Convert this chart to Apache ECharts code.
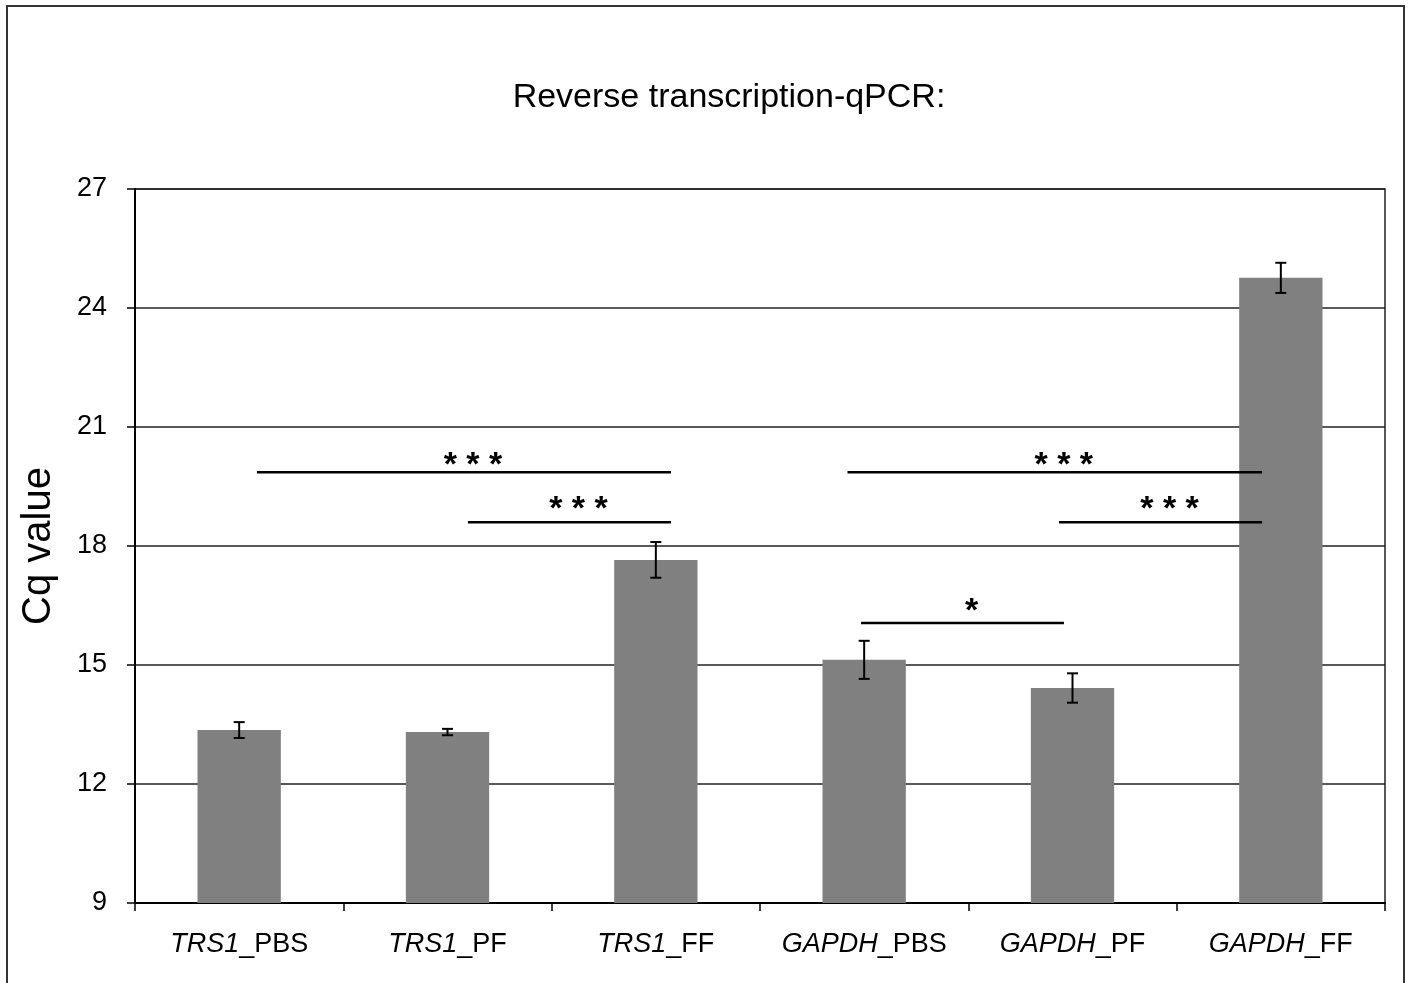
<!DOCTYPE html>
<html>
<head>
<meta charset="utf-8">
<script src="https://cdn.jsdelivr.net/npm/echarts@6/dist/echarts.min.js"></script>
<style>
html, body { margin: 0; padding: 0; background: #fff; }
#main { width: 1411px; height: 983px; }
</style>
</head>
<body>
<div id="main"></div>
<script>
// data
var genes = ['TRS1', 'TRS1', 'TRS1', 'GAPDH', 'GAPDH', 'GAPDH'];
var treatments = ['PBS', 'PF', 'FF', 'PBS', 'PF', 'FF'];
var cqMean = [13.36, 13.31, 17.65, 15.13, 14.42, 24.76];
var cqErr = [0.20, 0.08, 0.45, 0.48, 0.37, 0.38];

// significance brackets (x in category units, 0..6)
var sigFrom = [0.585, 1.598, 3.42, 4.435, 3.485];
var sigTo = [2.573, 2.573, 5.41, 5.41, 4.459];
var sigY = [19.86, 18.60, 19.86, 18.60, 16.06];
var sigStarY = [20.22, 19.11, 20.22, 19.11, 16.54];
var sigText = ['* * *', '* * *', '* * *', '* * *', '*'];

var FONT = 'Arial, "Liberation Sans", sans-serif';

var categories = genes.map(function (g, i) { return g + '_' + treatments[i]; });
var errData = cqMean.map(function (m, i) { return [i, m - cqErr[i], m + cqErr[i]]; });
var sigData = sigFrom.map(function (f, i) { return [f, sigTo[i], sigY[i], sigStarY[i]]; });

var myChart = echarts.init(document.getElementById('main'));
var option = {
    backgroundColor: '#fff',
    animation: false,
    title: {
        text: 'Reverse transcription-qPCR:',
        left: 724,
        top: 76,
        textAlign: 'center',
        textStyle: { fontFamily: FONT, fontSize: 34, fontWeight: 'normal', color: '#000' }
    },
    graphic: [{
        type: 'rect',
        shape: { x: 7, y: 6, width: 1397, height: 1010 },
        style: { fill: 'none', stroke: '#333', lineWidth: 2 }
    }],
    grid: {
        left: 135, right: 26, top: 189, bottom: 80,
        show: true, borderColor: '#222', borderWidth: 1.5
    },
    xAxis: [{
        type: 'category',
        data: categories,
        axisLine: { lineStyle: { color: '#000', width: 2 } },
        axisTick: { show: true, length: 8, lineStyle: { color: '#000', width: 1.5 } },
        axisLabel: {
            interval: 0,
            margin: 28,
            fontFamily: FONT,
            fontSize: 27,
            color: '#000',
            formatter: function (v) {
                var p = v.split('_');
                return '{i|' + p[0] + '}{n|_' + p[1] + '}';
            },
            rich: {
                i: { fontStyle: 'italic', fontFamily: FONT, fontSize: 27, color: '#000' },
                n: { fontFamily: FONT, fontSize: 27, color: '#000' }
            }
        }
    }, {
        type: 'value', min: 0, max: 6, show: false
    }],
    yAxis: {
        type: 'value',
        min: 9, max: 27, interval: 3,
        name: 'Cq value',
        nameLocation: 'middle',
        nameGap: 76,
        nameTextStyle: { fontFamily: FONT, fontSize: 40, color: '#000' },
        axisLine: { show: true, lineStyle: { color: '#000', width: 2 } },
        axisTick: { show: true, length: 8, lineStyle: { color: '#000', width: 1.5 } },
        axisLabel: { margin: 28, fontFamily: FONT, fontSize: 27, color: '#000' },
        splitLine: { show: true, lineStyle: { color: '#222', width: 1.5 } }
    },
    series: [{
        type: 'bar',
        data: cqMean,
        barWidth: '40%',
        itemStyle: { color: '#808080' }
    }, {
        type: 'custom',
        data: errData,
        z: 5,
        renderItem: function (params, api) {
            var lo = api.coord([api.value(0), api.value(1)]);
            var hi = api.coord([api.value(0), api.value(2)]);
            var w = 5.5;
            var st = { stroke: '#000', lineWidth: 2 };
            return {
                type: 'group',
                children: [
                    { type: 'line', shape: { x1: lo[0], y1: lo[1], x2: hi[0], y2: hi[1] }, style: st },
                    { type: 'line', shape: { x1: lo[0] - w, y1: lo[1], x2: lo[0] + w, y2: lo[1] }, style: st },
                    { type: 'line', shape: { x1: hi[0] - w, y1: hi[1], x2: hi[0] + w, y2: hi[1] }, style: st }
                ]
            };
        }
    }, {
        type: 'custom',
        xAxisIndex: 1,
        data: sigData,
        z: 6,
        renderItem: function (params, api) {
            var a = api.coord([api.value(0), api.value(2)]);
            var b = api.coord([api.value(1), api.value(2)]);
            var t = api.coord([(api.value(0) + api.value(1)) / 2, api.value(3)]);
            return {
                type: 'group',
                children: [
                    { type: 'line', shape: { x1: a[0], y1: a[1], x2: b[0], y2: b[1] }, style: { stroke: '#000', lineWidth: 2.5 } },
                    { type: 'text', x: t[0] + 9, y: t[1] + 8, style: {
                        text: sigText[params.dataIndex], fontFamily: FONT, fontSize: 34, fontWeight: 'bold',
                        align: 'center', verticalAlign: 'middle', fill: '#000' } }
                ]
            };
        }
    }]
};
myChart.setOption(option);
</script>
</body>
</html>
